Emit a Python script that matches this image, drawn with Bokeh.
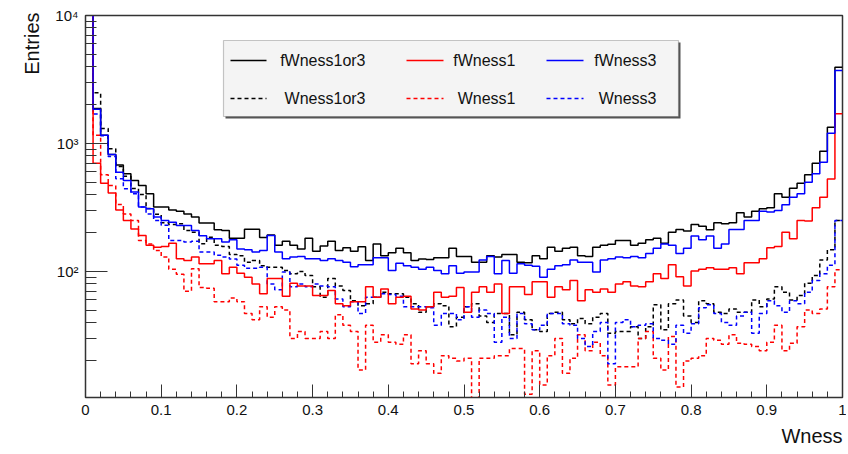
import numpy as np
from bokeh.plotting import figure
from bokeh.models import Range1d, FixedTicker, Label, BoxAnnotation, Title
from bokeh.embed import file_html
from bokeh.resources import INLINE

# ---------------- data ----------------
x_min, x_max, n_bins = 0.0, 1.0, 100

fWness1or3 = [20000, 1880, 1160, 820, 680, 580, 514, 470, 405, 319,
              319, 303, 296, 281, 266, 239, 239, 212, 209, 182,
              182, 214, 214, 184, 193, 160, 172, 160, 150, 182,
              144, 158, 172, 146, 153, 144, 156, 122, 164, 133,
              140, 152, 140, 122, 125, 124, 128, 128, 152, 131,
              131, 118, 118, 133, 130, 136, 136, 118, 117, 133,
              126, 155, 144, 152, 155, 133, 131, 155, 160, 163,
              175, 175, 160, 166, 177, 182, 166, 203, 213, 207,
              233, 226, 212, 240, 236, 240, 288, 266, 296, 309,
              315, 405, 381, 448, 490, 569, 702, 871, 1340, 3945]

fWness1 = [12000, 700, 490, 410, 303, 250, 215, 191, 160, 155,
           157, 166, 126, 122, 130, 115, 115, 122, 96, 108,
           97, 90, 80, 67, 88, 88, 64, 81, 77, 77,
           65, 65, 71, 56, 54, 58, 58, 76, 63, 73,
           56, 63, 64, 51, 50, 53, 69, 63, 64, 75,
           48, 69, 76, 69, 80, 47, 76, 76, 66, 83,
           83, 63, 76, 72, 85, 59, 72, 69, 73, 69,
           80, 83, 77, 76, 83, 96, 88, 113, 91, 77,
           101, 104, 107, 104, 104, 107, 96, 117, 117, 126,
           153, 157, 203, 180, 250, 248, 315, 381, 529, 1706]

fWness3 = [15000, 1850, 1160, 820, 595, 514, 417, 319, 309, 266,
           250, 243, 229, 229, 209, 190, 180, 180, 170, 177,
           150, 148, 142, 146, 191, 142, 126, 130, 131, 126,
           126, 122, 126, 122, 118, 109, 113, 113, 128, 128,
           102, 116, 111, 108, 104, 108, 102, 96, 111, 97,
           99, 99, 123, 131, 96, 122, 97, 115, 112, 110,
           90, 104, 111, 113, 123, 118, 118, 99, 123, 126,
           130, 128, 131, 128, 138, 152, 164, 160, 138, 152,
           189, 177, 189, 152, 164, 213, 213, 250, 250, 296,
           292, 300, 332, 381, 405, 499, 580, 714, 1200, 3720]

Wness1or3 = [14000, 2490, 1310, 910, 660, 555, 445, 400, 310, 280,
             240, 233, 236, 209, 203, 165, 185, 160, 157, 136,
             133, 118, 122, 111, 108, 108, 102, 96, 100, 93,
             76, 63, 88, 77, 71, 59, 54, 56, 63, 69,
             67, 67, 63, 56, 48, 53, 56, 54, 37, 44,
             53, 56, 45, 40, 47, 47, 32, 48, 42, 35,
             34, 47, 48, 42, 39, 43, 39, 44, 47, 33,
             34, 34, 37, 30, 37, 55, 35, 56, 60, 45,
             40, 59, 56, 48, 47, 51, 48, 48, 60, 53,
             61, 76, 69, 60, 65, 81, 93, 123, 148, 250]

Wness1 = [10500, 1160, 570, 470, 334, 281, 250, 175, 164, 146,
          130, 104, 95, 70, 105, 75, 74, 58, 58, 62,
          58, 47, 42, 53, 44, 53, 50, 30, 34, 30,
          30, 34, 30, 46, 38, 34, 17, 38, 28, 32,
          28, 27, 32, 19, 24, 19, 16, 22, 21, 20,
          21, 8, 21, 21, 22, 22, 25, 25, 11, 24,
          13, 22, 30, 16, 21, 32, 24, 28, 22, 13,
          18, 18, 18, 30, 34, 21, 17, 31, 12.5, 20,
          21, 22, 30, 29, 27, 32, 27.5, 27, 26, 24,
          28, 38, 24, 27.5, 37, 50, 47, 51, 76, 103]

Wness3 = [11000, 1700, 1150, 790, 530, 443, 405, 319, 281, 250,
          230, 175, 175, 170, 172, 142, 142, 134, 130, 125,
          112, 106, 106, 108, 80, 72, 99, 76, 80, 76,
          80, 77, 76, 61, 53, 58, 47, 63, 63, 67,
          66, 64, 53, 53, 53, 52, 38, 47, 47, 42,
          53, 44, 50, 47, 28, 44, 30, 47, 39, 35,
          38, 47, 47, 39, 38, 30, 26, 34, 40, 19,
          40, 42, 37, 38, 39, 30, 29, 27, 38, 33,
          39, 52, 55, 47, 40, 38, 45, 48, 33, 47,
          59, 54, 48, 59, 56, 69, 85, 96, 112, 250]

x_ticks = [0, 0.1, 0.2, 0.3, 0.4, 0.5, 0.6, 0.7, 0.8, 0.9, 1.0]
x_tick_labels = ["0", "0.1", "0.2", "0.3", "0.4", "0.5", "0.6", "0.7", "0.8", "0.9", "1"]
y_ticks = [100, 1000, 10000]
y_tick_labels = ["10\u00b2", "10\u00b3", "10\u2074"]

# ---------------- layout ----------------
W, H = 846, 452
FRAME_L, FRAME_R, FRAME_T, FRAME_B = 85, 842, 15, 397
LEFT, RIGHT, TOP, BOTTOM = FRAME_L, W - FRAME_R, FRAME_T, H - FRAME_B
FRAME_W = FRAME_R - FRAME_L
DECADE_PX = 128.0
Y_TOP = 1e4
Y_BOT = 10 ** (4 - (FRAME_B - FRAME_T) / DECADE_PX)
FONT = "Liberation Sans"


def xd(px):
    return x_min + (px - FRAME_L) / FRAME_W * (x_max - x_min)


def yd(py):
    return 10 ** (4 - (py - FRAME_T) / DECADE_PX)


p = figure(width=W, height=H, y_axis_type="log",
           x_range=Range1d(x_min, x_max), y_range=Range1d(Y_BOT, Y_TOP),
           output_backend="svg", toolbar_location=None,
           min_border_left=LEFT, min_border_right=RIGHT,
           min_border_top=TOP, min_border_bottom=BOTTOM)
p.background_fill_color = "white"
p.border_fill_color = "white"
p.grid.visible = False
p.outline_line_color = "#333333"
p.outline_line_width = 1.5

edges = list(np.linspace(x_min, x_max, n_bins + 1))

series = [
    (fWness1or3, "black", "solid", "fWness1or3"),
    (fWness1, "#ff0000", "solid", "fWness1"),
    (fWness3, "#0000ff", "solid", "fWness3"),
    (Wness1or3, "black", "4 3", "Wness1or3"),
    (Wness1, "#ff0000", "4 3", "Wness1"),
    (Wness3, "#0000ff", "4 3", "Wness3"),
]

# draw dashed first, solid on top (blue solid last)
for idx in (3, 4, 5, 0, 1, 2):
    vals, col, dash, name = series[idx]
    yv = list(vals) + [vals[-1]]
    p.step(edges, yv, mode="after", line_color=col, line_width=1.5, line_dash=dash)

# axes
p.xaxis.ticker = FixedTicker(ticks=x_ticks,
                             minor_ticks=[round(i * 0.02, 2) for i in range(51)])
p.xaxis.major_label_overrides = {t: s for t, s in zip(x_ticks, x_tick_labels)}
p.yaxis.ticker = FixedTicker(ticks=y_ticks,
                             minor_ticks=[m * d for d in (10, 100, 1000) for m in range(2, 10)])
p.yaxis.major_label_overrides = {t: s for t, s in zip(y_ticks, y_tick_labels)}

for ax in (p.xaxis[0], p.yaxis[0]):
    ax.axis_line_color = "#333333"
    ax.major_tick_line_color = "#333333"
    ax.minor_tick_line_color = "#333333"
    ax.major_tick_out = 0
    ax.minor_tick_out = 0
    ax.major_label_text_font = FONT
    ax.major_label_text_font_size = "15px"
    ax.major_label_text_color = "#111111"
    ax.major_label_standoff = 7

p.xaxis.major_tick_in = 13
p.xaxis.minor_tick_in = 6
p.yaxis.major_tick_in = 22
p.yaxis.minor_tick_in = 11

# axis titles (ROOT style: at the end of each axis)
p.add_layout(Title(text="Entries", align="right", text_font=FONT,
                   text_font_size="20px", text_font_style="normal",
                   text_color="#111111", standoff=20, offset=-3), "left")
p.add_layout(Title(text="Wness", align="right", text_font=FONT,
                   text_font_size="20px", text_font_style="normal",
                   text_color="#111111"), "below")

# legend (manual, ROOT-like, with shadow)
p.add_layout(BoxAnnotation(left=xd(225), right=xd(680), top=yd(42), bottom=yd(118),
                           fill_color="#555555", fill_alpha=1.0, line_color=None))
p.add_layout(BoxAnnotation(left=xd(223), right=xd(678), top=yd(40), bottom=yd(116),
                           fill_color="#f4f4f4", fill_alpha=1.0,
                           line_color="#444444", line_width=1.2))
rows = [60, 98]
line_cols = [(230, 266), (406, 443), (546, 583)]
text_right = [365, 515, 656]
for i, (vals, col, dash, name) in enumerate(series):
    r, c = divmod(i, 3)
    a, b = line_cols[c]
    p.line([xd(a), xd(b)], [yd(rows[r]), yd(rows[r])], line_color=col,
           line_width=1.5, line_dash=dash, level="overlay")
    p.add_layout(Label(x=xd(text_right[c]), y=yd(rows[r]), text=name,
                       text_align="right", text_baseline="middle",
                       text_font=FONT, text_font_size="16px", text_color="#111111"))

open("out.html", "w").write(file_html(p, INLINE))
